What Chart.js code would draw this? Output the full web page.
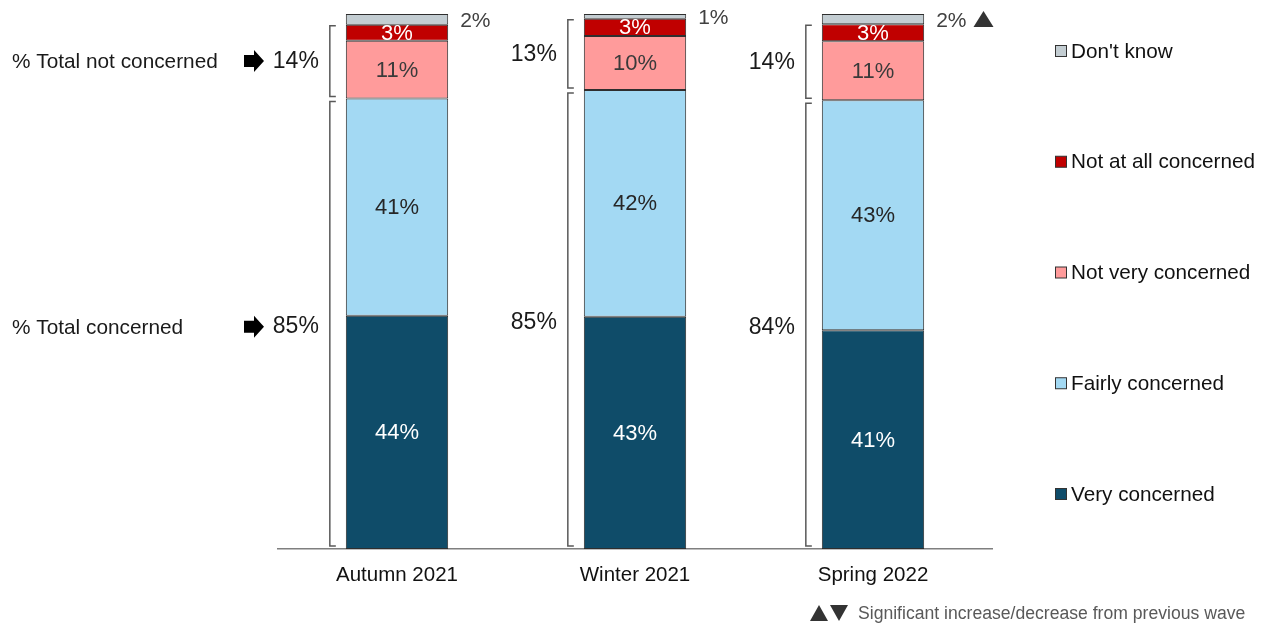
<!DOCTYPE html>
<html>
<head>
<meta charset="utf-8">
<script src="https://cdn.jsdelivr.net/npm/chart.js@4/dist/chart.umd.min.js"></script>
<style>
  body { margin: 0; background: #fff; }
  #wrap { width: 1272px; height: 626px; position: relative; }
</style>
</head>
<body>
<div id="wrap"><canvas id="concern-chart"></canvas></div>
<script>
// Waves
const waves = ['Autumn 2021', 'Winter 2021', 'Spring 2022'];

// Segment sizes (unrounded, each wave ~100)
const veryConcerned   = [43.6, 43.4, 40.9];
const fairlyConcerned = [40.6, 42.4, 43.0];
const notVeryConcerned = [10.8, 10.1, 11.0];
const notAtAllConcerned = [3.0, 3.2, 3.2];
const dontKnow = [2.0, 0.9, 1.9];

// Printed labels
const veryLabels = ['44%', '43%', '41%'];
const fairlyLabels = ['41%', '42%', '43%'];
const notVeryLabels = ['11%', '10%', '11%'];
const notAtAllLabels = ['3%', '3%', '3%'];
const dontKnowLabels = ['2%', '1%', '2%'];
const totalConcerned = ['85%', '85%', '84%'];
const totalNotConcerned = ['14%', '13%', '14%'];
const dontKnowSig = ['', '', 'up'];

const FONT = "'Liberation Sans', Arial, sans-serif";

const seriesInfo = [
    { label: 'Very concerned', data: veryConcerned, labels: veryLabels, color: '#0F4C69', text: '#ffffff' },
    { label: 'Fairly concerned', data: fairlyConcerned, labels: fairlyLabels, color: '#A3D9F3', text: '#262626' },
    { label: 'Not very concerned', data: notVeryConcerned, labels: notVeryLabels, color: '#FF9B9B', text: '#3a3a3a' },
    { label: 'Not at all concerned', data: notAtAllConcerned, labels: notAtAllLabels, color: '#C00000', text: '#ffffff' },
    { label: "Don't know", data: dontKnow, labels: dontKnowLabels, color: '#C3CDD2', text: '#404040', outside: true }
];

function triangle(ctx, x, y, w, h, up) {
    ctx.beginPath();
    if (up) {
        ctx.moveTo(x, y + h); ctx.lineTo(x + w / 2, y); ctx.lineTo(x + w, y + h);
    } else {
        ctx.moveTo(x, y); ctx.lineTo(x + w / 2, y + h); ctx.lineTo(x + w, y);
    }
    ctx.closePath();
    ctx.fill();
}

function blockArrow(ctx, x, cy) {
    ctx.beginPath();
    ctx.moveTo(x, cy - 6);
    ctx.lineTo(x + 10, cy - 6);
    ctx.lineTo(x + 10, cy - 11);
    ctx.lineTo(x + 20, cy);
    ctx.lineTo(x + 10, cy + 11);
    ctx.lineTo(x + 10, cy + 6);
    ctx.lineTo(x, cy + 6);
    ctx.closePath();
    ctx.fillStyle = '#000';
    ctx.fill();
}

function bracket(ctx, x, top, bottom) {
    ctx.beginPath();
    ctx.moveTo(x + 6, top);
    ctx.lineTo(x, top);
    ctx.lineTo(x, bottom);
    ctx.lineTo(x + 6, bottom);
    ctx.strokeStyle = '#595959';
    ctx.lineWidth = 1.5;
    ctx.stroke();
}

const annotations = {
    id: 'annotations',
    afterDatasetsDraw(chart) {
        const ctx = chart.ctx;
        ctx.save();
        ctx.textBaseline = 'middle';

        // segment labels
        seriesInfo.forEach((s, i) => {
            const meta = chart.getDatasetMeta(i);
            meta.data.forEach((el, j) => {
                const cy = (el.y + el.base) / 2;
                ctx.fillStyle = s.text;
                if (s.outside) {
                    ctx.font = '21px ' + FONT;
                    ctx.textAlign = 'left';
                    const tx = el.x + el.width / 2 + 12;
                    ctx.fillText(s.labels[j], tx, cy + 2);
                    if (dontKnowSig[j]) {
                        const w = ctx.measureText(s.labels[j]).width;
                        ctx.fillStyle = '#333';
                        triangle(ctx, tx + w + 7, cy - 8, 20, 16, dontKnowSig[j] === 'up');
                    }
                } else {
                    ctx.font = '22px ' + FONT;
                    ctx.textAlign = 'center';
                    ctx.fillText(s.labels[j], el.x, cy + 1);
                }
            });
        });

        // brackets and totals
        const mVery = chart.getDatasetMeta(0).data;
        const mFair = chart.getDatasetMeta(1).data;
        const mNotVery = chart.getDatasetMeta(2).data;
        const mNotAll = chart.getDatasetMeta(3).data;
        mVery.forEach((el, j) => {
            const bx = el.x - el.width / 2 - 16;
            const ncTop = mNotAll[j].y + 1, ncBot = mNotVery[j].base - 2;
            const cTop = mFair[j].y + 3, cBot = mVery[j].base - 3;
            bracket(ctx, bx, ncTop, ncBot);
            bracket(ctx, bx, cTop, cBot);

            ctx.font = '23px ' + FONT;
            ctx.fillStyle = '#1a1a1a';
            ctx.textAlign = 'right';
            const ncY = (ncTop + ncBot) / 2, cY = (cTop + cBot) / 2 + 3;
            ctx.fillText(totalNotConcerned[j], bx - 11, ncY + 1);
            ctx.fillText(totalConcerned[j], bx - 11, cY);

            if (j === 0) {
                blockArrow(ctx, 244, ncY);
                blockArrow(ctx, 244, cY);
                ctx.font = '20.8px ' + FONT;
                ctx.textAlign = 'left';
                ctx.fillStyle = '#1a1a1a';
                ctx.fillText('% Total not concerned', 12, ncY + 1);
                ctx.fillText('% Total concerned', 12, cY + 1);
            }
        });
        ctx.restore();
    },
    afterDraw(chart) {
        const ctx = chart.ctx;
        ctx.save();
        // legend (top item = last series)
        ctx.textBaseline = 'middle';
        ctx.textAlign = 'left';
        ctx.font = '20.7px ' + FONT;
        const order = seriesInfo.slice().reverse();
        order.forEach((s, k) => {
            const y = 51 + k * 110.75;
            ctx.fillStyle = s.color;
            ctx.fillRect(1055.5, y - 5.5, 11, 11);
            ctx.strokeStyle = '#333';
            ctx.lineWidth = 1;
            ctx.strokeRect(1055.5, y - 5.5, 11, 11);
            ctx.fillStyle = '#111';
            ctx.fillText(s.label, 1071, y + 1);
        });

        // significance note
        ctx.fillStyle = '#333';
        triangle(ctx, 810, 605, 18, 16, true);
        triangle(ctx, 830, 605, 18, 16, false);
        ctx.fillStyle = '#595959';
        ctx.font = '17.6px ' + FONT;
        ctx.fillText('Significant increase/decrease from previous wave', 858, 614);
        ctx.restore();
    }
};

const ctx = document.getElementById('concern-chart').getContext('2d');
const chart = new Chart(ctx, {
    type: 'bar',
    data: {
        labels: waves,
        datasets: seriesInfo.map(s => ({
            label: s.label,
            data: s.data,
            backgroundColor: s.color,
            borderColor: '#2e2e2e',
            borderWidth: 1,
            borderSkipped: false,
            barPercentage: 0.43,
            categoryPercentage: 1
        }))
    },
    options: {
        responsive: true,
        maintainAspectRatio: false,
        animation: false,
        layout: {
            padding: { left: 278, right: 280, top: 14, bottom: 0 }
        },
        plugins: {
            legend: { display: false },
            tooltip: { enabled: false }
        },
        scales: {
            x: {
                stacked: true,
                grid: { display: false, drawTicks: false },
                border: { display: true, color: '#7f7f7f', width: 1.5 },
                ticks: {
                    padding: 14,
                    color: '#111',
                    font: { family: FONT, size: 20.5 }
                },
                afterFit(scale) { scale.height = 77; }
            },
            y: {
                stacked: true,
                display: false,
                min: 0,
                max: 100
            }
        }
    },
    plugins: [annotations]
});
</script>
</body>
</html>
